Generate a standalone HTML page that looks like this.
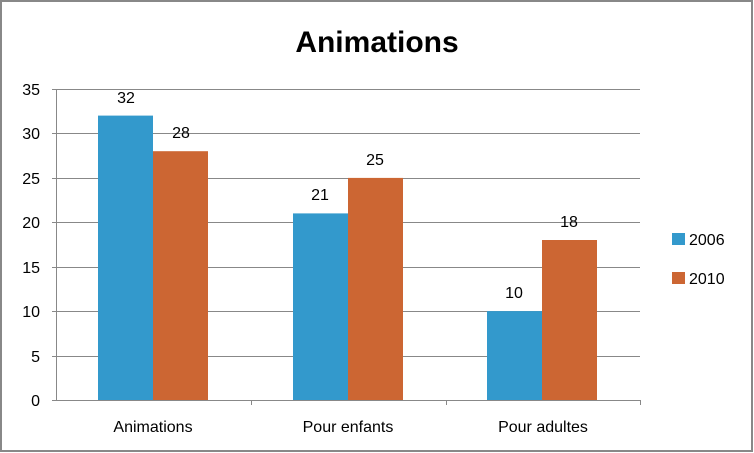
<!DOCTYPE html><html><head><style>body{margin:0;background:#fff}svg{display:block}text{font-family:"Liberation Sans",sans-serif}</style></head><body>
<svg width="754" height="453" xmlns="http://www.w3.org/2000/svg">
<rect x="1" y="1" width="751" height="450" fill="#fff" stroke="#888" stroke-width="2"/>
<text x="377" y="52" text-anchor="middle" font-size="30" font-weight="bold">Animations</text>
<g stroke="#888" stroke-width="1">
<line x1="52" y1="89.5" x2="640" y2="89.5"/><line x1="52" y1="133.5" x2="640" y2="133.5"/><line x1="52" y1="178.5" x2="640" y2="178.5"/><line x1="52" y1="222.5" x2="640" y2="222.5"/><line x1="52" y1="267.5" x2="640" y2="267.5"/><line x1="52" y1="311.5" x2="640" y2="311.5"/><line x1="52" y1="356.5" x2="640" y2="356.5"/><line x1="52" y1="400.5" x2="640" y2="400.5"/>
<line x1="56.5" y1="89" x2="56.5" y2="400"/>
<line x1="251.5" y1="400" x2="251.5" y2="405"/><line x1="446.5" y1="400" x2="446.5" y2="405"/><line x1="640.5" y1="400" x2="640.5" y2="405"/>
</g>
<g font-size="16" text-anchor="end">
<text x="40" y="95">35</text><text x="40" y="139">30</text><text x="40" y="184">25</text><text x="40" y="228">20</text><text x="40" y="273">15</text><text x="40" y="317">10</text><text x="40" y="362">5</text><text x="40" y="406">0</text>
</g>
<g fill="#3399CC"><rect x="98" y="115.6" width="55" height="284.4"/><rect x="293" y="213.4" width="55" height="186.6"/><rect x="487" y="311.1" width="55" height="88.9"/></g>
<g fill="#CC6633"><rect x="153" y="151.2" width="55" height="248.8"/><rect x="348" y="177.9" width="55" height="222.1"/><rect x="542" y="240" width="55" height="160"/></g>
<g font-size="16" text-anchor="middle">
<text x="126" y="103">32</text><text x="181" y="138">28</text><text x="320" y="200">21</text><text x="375" y="165">25</text><text x="514" y="298">10</text><text x="569" y="227">18</text>
<text x="153" y="432">Animations</text><text x="348" y="432">Pour enfants</text><text x="543" y="432">Pour adultes</text>
</g>
<rect x="672" y="233" width="13" height="12" fill="#3399CC"/><rect x="672" y="272" width="13" height="12" fill="#CC6633"/>
<g font-size="16"><text x="689" y="245">2006</text><text x="689" y="284">2010</text></g>
</svg></body></html>
